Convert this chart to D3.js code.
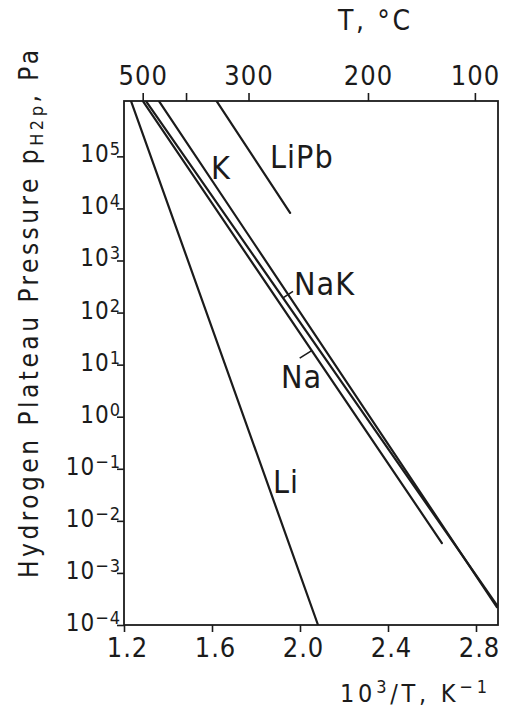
<!DOCTYPE html>
<html>
<head>
<meta charset="utf-8">
<script src="https://cdn.jsdelivr.net/npm/d3@7"></script>
<style>
  body { margin: 0; background: #fff; }
  text { font-family: "Liberation Sans Narrow", "DejaVu Sans Condensed", "Arial Narrow", sans-serif; fill: #1b1b1b; }
</style>
</head>
<body>
<svg id="chart" width="518" height="717"></svg>
<script>
// Hydrogen plateau pressure lines, straight in (10^3/T, log p)
const series   = ["Li", "K", "NaK", "Na", "LiPb"];
const xStart   = [1.232, 1.359, 1.300, 1.286, 1.621];   // 10^3/T, K^-1
const pStart   = [1.15e6, 1.15e6, 1.15e6, 1.15e6, 1.15e6]; // Pa
const xEnd     = [2.082, 2.895, 2.895, 2.645, 1.955];
const pEnd     = [1.0e-4, 2.21e-4, 2.42e-4, 3.75e-3, 8.2e3];

// label anchors (10^3/T, Pa) for each series
const labelX   = [1.877, 1.5955, 1.9727, 1.9136, 1.8636];
const labelP   = [0.0342, 3.63e4, 216, 3.54, 5.9e4];

// leader lines: position on the line (10^3/T) for labels that use one
const leaderSeries = ["NaK", "Na"];
const leaderX      = [1.9227, 2.0532];

// axis ticks
const bottomTicks  = [1.2, 1.6, 2.0, 2.4, 2.8];
const leftTicks    = [1e5, 1e4, 1e3, 1e2, 1e1, 1e0, 1e-1, 1e-2, 1e-3, 1e-4];
const leftExps     = ["5", "4", "3", "2", "1", "0", "\u22121", "\u22122", "\u22123", "\u22124"];
const topTickLabels = ["500", "", "300", "200", "100"];      // T, °C
const topTickPos    = [1.285, 1.482, 1.766, 2.309, 2.795];   // where they sit on the 10^3/T axis

const svg = d3.select("#chart");
const mLeft = 124, mRight = 498, mTop = 101, mBottom = 625;

const x = d3.scaleLinear().domain([1.2, 2.9]).range([mLeft, mRight]);
const y = d3.scaleLog().domain([1e-4, Math.pow(10, 6.063)]).range([mBottom, mTop]);

const ink = "#1b1b1b";

// clip for the plotted lines
svg.append("clipPath").attr("id", "plot")
  .append("rect").attr("x", mLeft).attr("y", mTop).attr("width", mRight - mLeft).attr("height", mBottom - mTop);

// frame
svg.append("rect")
  .attr("x", mLeft).attr("y", mTop).attr("width", mRight - mLeft).attr("height", mBottom - mTop)
  .attr("fill", "none").attr("stroke", ink).attr("stroke-width", 1.8);

// bottom axis
const gB = svg.append("g").attr("transform", `translate(0,${mBottom})`)
  .call(d3.axisBottom(x).tickValues(bottomTicks).tickSize(7).tickSizeOuter(0)
        .tickFormat(d3.format(".1f")));
gB.select(".domain").remove();
gB.selectAll("line").attr("stroke", ink).attr("stroke-width", 1.6);
gB.selectAll("text").attr("font-size", 27).attr("dy", null).attr("y", 32).attr("dx", 3)
  .attr("fill", ink).style("letter-spacing", "1px");

// top axis (°C)
const gT = svg.append("g").attr("transform", `translate(0,${mTop})`)
  .call(d3.axisTop(x).tickValues(topTickPos).tickSize(8).tickSizeOuter(0)
        .tickFormat((d, i) => topTickLabels[i]));
gT.select(".domain").remove();
gT.selectAll("line").attr("stroke", ink).attr("stroke-width", 1.6);
gT.selectAll("text").attr("font-size", 27).attr("y", -16).attr("fill", ink)
  .style("letter-spacing", "1px");

// left axis (log p)
const gL = svg.append("g").attr("transform", `translate(${mLeft},0)`)
  .call(d3.axisLeft(y).tickValues(leftTicks).tickSize(7).tickSizeOuter(0).tickFormat(""));
gL.select(".domain").remove();
gL.selectAll("line").attr("stroke", ink).attr("stroke-width", 1.6);

const lbl = svg.append("g");
leftTicks.forEach((v, i) => {
  const t = lbl.append("text")
    .attr("x", mLeft - 3).attr("y", y(v) + 6)
    .attr("text-anchor", "end").attr("font-size", 24)
    .style("letter-spacing", "1px");
  t.append("tspan").text("10");
  t.append("tspan").attr("font-size", 18).attr("dy", -7).text(leftExps[i]);
});

// series lines
const line = d3.line().x(d => x(d[0])).y(d => y(d[1]));
const gLines = svg.append("g").attr("clip-path", "url(#plot)");
series.forEach((s, i) => {
  gLines.append("path")
    .attr("d", line([[xStart[i], pStart[i]], [xEnd[i], pEnd[i]]]))
    .attr("fill", "none").attr("stroke", ink).attr("stroke-width", 2.2)
    .attr("stroke-linecap", "round");
});

// value on a series line at a given 10^3/T
function pOn(idx, xv) {
  const l0 = Math.log10(pStart[idx]), l1 = Math.log10(pEnd[idx]);
  const t = (xv - xStart[idx]) / (xEnd[idx] - xStart[idx]);
  return Math.pow(10, l0 + t * (l1 - l0));
}

// leader strokes from line to label
const leaderOffset = [[10, -6.5], [-12, 7.5]];
leaderSeries.forEach((s, j) => {
  const idx = series.indexOf(s);
  const px = x(leaderX[j]), py = y(pOn(idx, leaderX[j]));
  svg.append("line")
    .attr("x1", px).attr("y1", py)
    .attr("x2", px + leaderOffset[j][0]).attr("y2", py + leaderOffset[j][1])
    .attr("stroke", ink).attr("stroke-width", 1.6);
});

// series labels
series.forEach((s, i) => {
  svg.append("text")
    .attr("x", x(labelX[i])).attr("y", y(labelP[i]))
    .attr("font-size", 32).style("letter-spacing", "1px")
    .text(s);
});

// axis titles
svg.append("text")
  .attr("x", 338).attr("y", 30).attr("font-size", 28)
  .attr("textLength", 72).attr("lengthAdjust", "spacing")
  .text("T, \u00B0C");

const bt = svg.append("text")
  .attr("x", 340).attr("y", 702).attr("font-size", 25)
  .attr("textLength", 147).attr("lengthAdjust", "spacing");
bt.append("tspan").text("10");
bt.append("tspan").attr("font-size", 18).attr("dy", -9).text("3");
bt.append("tspan").attr("dy", 9).text("/T, K");
bt.append("tspan").attr("font-size", 18).attr("dy", -9).text("\u22121");

const yt = svg.append("text")
  .attr("transform", "translate(38,578) rotate(-90)")
  .attr("font-size", 26)
  .attr("textLength", 528).attr("lengthAdjust", "spacing");
yt.append("tspan").text("Hydrogen Plateau Pressure p");
yt.append("tspan").attr("font-size", 18).attr("dy", 5).text("H2p");
yt.append("tspan").attr("dy", -5).text(", Pa");
</script>
</body>
</html>
